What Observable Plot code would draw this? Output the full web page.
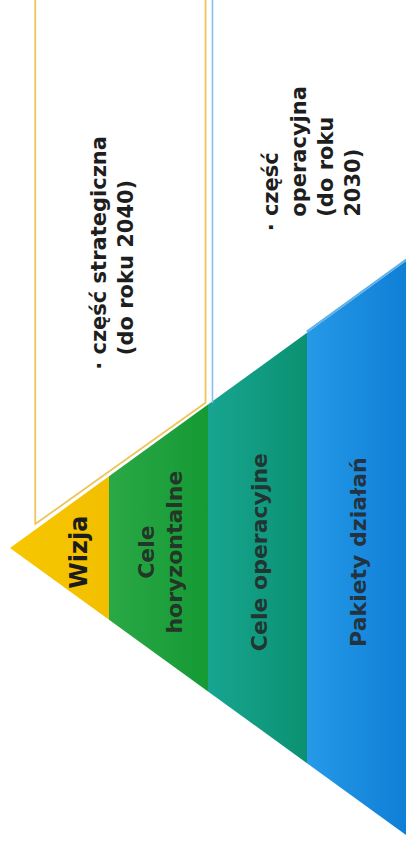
<!DOCTYPE html>
<html><head><meta charset="utf-8">
<script src="https://cdn.jsdelivr.net/npm/d3@7"></script>
<script src="https://cdn.jsdelivr.net/npm/@observablehq/plot@0.6"></script>
<style>
html,body{margin:0;padding:0;background:#fff;overflow:hidden}
g[aria-label="layer labels"] text{letter-spacing:1.8px}
g[aria-label="vision label"] text{letter-spacing:1.5px}
g[aria-label="notes"] text{letter-spacing:0.9px}
</style></head><body><div id="chart"></div>
<script>
// ---- data ----
const layers = ["Wizja", "Cele horyzontalne", "Cele operacyjne", "Pakiety działań"];
const layerLabels = ["Wizja", "Cele\nhoryzontalne", "Cele operacyjne", "Pakiety działań"];
const parts = ["część strategiczna", "część operacyjna"];
const partYears = [2040, 2030];
const partLayers = [["Wizja", "Cele horyzontalne"], ["Cele operacyjne", "Pakiety działań"]];
const partNotes = [
  "· część strategiczna\n\u00a0\u00a0(do roku 2040)",
  "· część\n\u00a0\u00a0operacyjna\n\u00a0\u00a0(do roku\n\u00a0\u00a02030)"
];

// ---- layout / style ----
const gradients = [
  ["#f7c700", "#f2bf00"],
  ["#2aa846", "#159a34"],
  ["#17a591", "#0b9171"],
  ["#2699e8", "#0f7fd6"]
];
const TOP = -9; // beyond top edge (clipped)
const bands = layers.flatMap((name, i) => [i, i + 1].map(level => ({name, i, level})));

// boxes derived from which layers each part covers
const boxInset = [[0.25, 0.03], [0.04, 0]];
const boxGap = [0.09, 0.03];
const strat = partLayers[0].map(n => layers.indexOf(n));
const oper = partLayers[1].map(n => layers.indexOf(n));
const s0 = strat[0] + boxInset[0][0], s1 = strat[strat.length - 1] + 1 - boxInset[0][1];
const o0 = oper[0] + boxInset[1][0];
const stratBox = [
  {level: s0, spread: TOP}, {level: s0, spread: -s0 - boxGap[0]},
  {level: s1, spread: -s1 - boxGap[0] + 0.03}, {level: s1, spread: TOP}
];
const operVert = [{level: o0, spread: TOP}, {level: o0, spread: -o0}];
const operDiag = [
  {level: oper[1], spread: -oper[1] - boxGap[1]},
  {level: oper[1] + 1.2, spread: -(oper[1] + 1.2) - boxGap[1]}
];

const noteLayout = [
  {level: (s0 + s1) / 2 - 0.1, spread: -2.49},
  {level: oper[1] + 0.03, spread: -4.42}
];

const chart = Plot.plot({
  width: 406,
  height: 853,
  margin: 0,
  style: {fontFamily: "DejaVu Sans", background: "#fff"},
  x: {domain: [0, 4], range: [10, 406], axis: null},
  y: {domain: [-4, 4], range: [261, 835], axis: null},
  color: {type: "identity"},
  marks: [
    Plot.areaY(bands, {
      x: "level", y1: d => -d.level, y2: d => d.level, z: "name",
      fill: d => `url(#band${d.i})`, clip: true
    }),
    Plot.line(stratBox, {x: "level", y: "spread", stroke: "#efc55a", strokeWidth: 1.8, clip: true}),
    Plot.line(operVert, {x: "level", y: "spread", stroke: "#86c0ea", strokeWidth: 1.6, clip: true}),
    Plot.line(operDiag, {x: "level", y: "spread", stroke: "#5db0e8", strokeWidth: 2, clip: true}),
    Plot.text([layers[0]], {
      x: () => 0.7, y: () => 0.05, text: () => layerLabels[0],
      rotate: -90, fontSize: 24, fontWeight: "bold", fill: "#1c1c1c", ariaLabel: "vision label"
    }),
    Plot.text(layers.slice(1), {
      x: (d, i) => i + 1.5, y: () => 0.05, text: (d, i) => layerLabels[i + 1],
      rotate: -90, fontSize: 22, fontWeight: "bold", fill: "#242424", fillOpacity: 0.85,
      lineHeight: 1.3, ariaLabel: "layer labels"
    }),
    Plot.text(parts, {
      x: (d, i) => noteLayout[i].level, y: (d, i) => noteLayout[i].spread,
      text: (d, i) => partNotes[i], rotate: -90, textAnchor: "start",
      fontSize: 21, fontWeight: "bold", fill: "#1e1e1e", lineHeight: 1.3, ariaLabel: "notes"
    })
  ]
});

// gradient definitions for the pyramid bands
const svg = d3.select(chart);
const defs = svg.insert("defs", ":first-child");
gradients.forEach((g, i) => {
  const lg = defs.append("linearGradient").attr("id", `band${i}`)
    .attr("x1", 0).attr("x2", 1).attr("y1", 0).attr("y2", 0);
  lg.append("stop").attr("offset", 0).attr("stop-color", g[0]);
  lg.append("stop").attr("offset", 1).attr("stop-color", g[1]);
});
document.getElementById("chart").appendChild(chart);
</script></body></html>
